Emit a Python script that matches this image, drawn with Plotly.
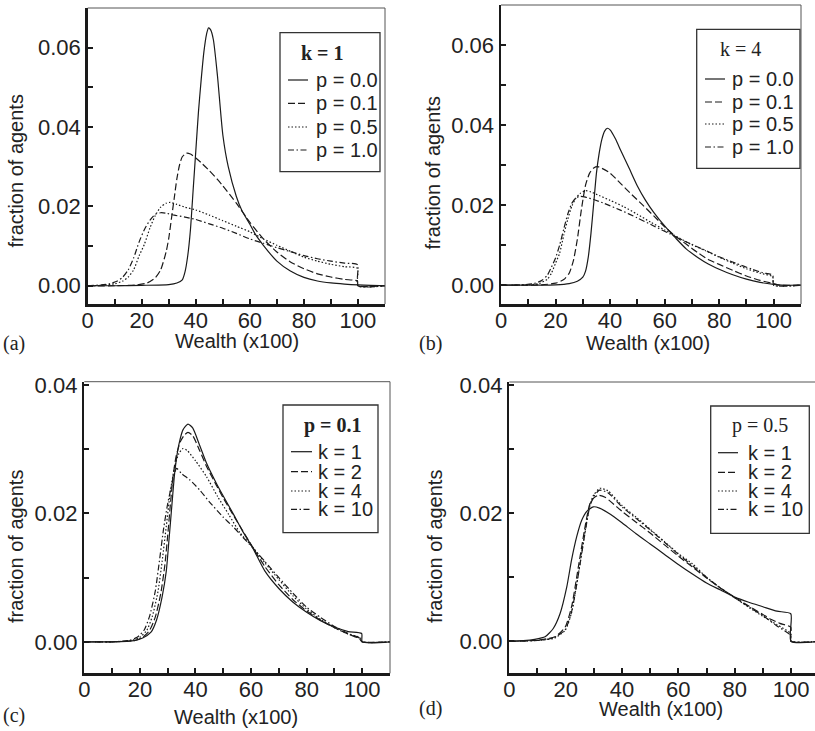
import plotly.graph_objects as go

W, H = 815, 731

# ---------------- data ----------------
# Panel (a): k = 1
a_p00_x = [0, 10, 20, 30, 33, 35, 36, 37, 38, 39, 40, 41, 42, 43, 44, 44.7, 45.5, 46.5, 48, 50, 52, 55, 57, 60, 62, 65, 70, 75, 80, 85, 90, 95, 100, 110]
a_p00_y = [0, 0, 0.0001, 0.0003, 0.0007, 0.0015, 0.0035, 0.0075, 0.014, 0.024, 0.034, 0.044, 0.052, 0.059, 0.0635, 0.065, 0.0645, 0.062, 0.053, 0.038, 0.030, 0.0225, 0.019, 0.0155, 0.013, 0.0102, 0.0062, 0.0037, 0.0021, 0.0012, 0.0007, 0.0004, 0.0002, 0]
a_p01_x = [0, 10, 18, 22, 25, 27, 29, 30, 31, 32, 33, 34, 35, 36.5, 38, 40, 42, 45, 48, 50, 55, 60, 65, 70, 75, 80, 85, 90, 95, 99.8, 100, 110]
a_p01_y = [0, 0, 0.0002, 0.0007, 0.002, 0.004, 0.0085, 0.012, 0.017, 0.022, 0.027, 0.0305, 0.0325, 0.0334, 0.0332, 0.0322, 0.031, 0.029, 0.0268, 0.0252, 0.0208, 0.016, 0.0118, 0.0085, 0.006, 0.0043, 0.003, 0.0022, 0.0016, 0.0012, 0, 0]
a_p05_x = [0, 5, 10, 13, 15, 17, 19, 21, 23, 25, 27, 29, 30.5, 33, 36, 40, 45, 50, 55, 60, 65, 70, 75, 80, 85, 90, 95, 99.8, 100, 110]
a_p05_y = [0, 0.0001, 0.0005, 0.0012, 0.0022, 0.004, 0.0075, 0.0105, 0.0145, 0.0177, 0.0198, 0.0208, 0.021, 0.0205, 0.0198, 0.0191, 0.0178, 0.0164, 0.015, 0.0136, 0.0118, 0.0102, 0.0087, 0.0072, 0.0062, 0.0054, 0.0048, 0.0044, 0, 0]
a_p10_x = [0, 5, 8, 11, 13, 15, 17, 19, 21, 23, 25, 27, 29, 32, 36, 40, 45, 50, 55, 60, 65, 70, 75, 80, 85, 90, 95, 99.8, 100, 110]
a_p10_y = [0, 0.0002, 0.0005, 0.0012, 0.0022, 0.004, 0.007, 0.011, 0.0142, 0.0165, 0.018, 0.0184, 0.0183, 0.0178, 0.0173, 0.0167, 0.0156, 0.0145, 0.0132, 0.0118, 0.0107, 0.0096, 0.0086, 0.0076, 0.0068, 0.0062, 0.0057, 0.0053, 0, 0]

# Panel (b): k = 4
b_p00_x = [0, 10, 20, 25, 28, 30, 31, 32, 33, 34, 35, 36, 37, 38, 39, 40, 42, 44, 47, 50, 53, 56, 60, 64, 68, 72, 76, 80, 85, 90, 95, 100, 103, 110]
b_p00_y = [0, 0, 0.0001, 0.0004, 0.001, 0.002, 0.0035, 0.007, 0.013, 0.0205, 0.028, 0.033, 0.0365, 0.0385, 0.0392, 0.0388, 0.0365, 0.0335, 0.0292, 0.0248, 0.0212, 0.0182, 0.0148, 0.0118, 0.009, 0.007, 0.0053, 0.004, 0.0026, 0.0015, 0.0007, 0.0002, 0, 0]
b_p01_x = [0, 10, 15, 20, 23, 25, 26.5, 28, 29.5, 31, 32.5, 34, 35.5, 37, 40, 44, 48, 52, 56, 60, 64, 68, 72, 76, 80, 85, 90, 95, 100, 102, 110]
b_p01_y = [0, 0, 0.0001, 0.0005, 0.0014, 0.003, 0.006, 0.0115, 0.019, 0.025, 0.028, 0.0293, 0.0296, 0.0292, 0.028, 0.0253, 0.0226, 0.02, 0.0173, 0.0146, 0.0122, 0.0102, 0.0082, 0.0064, 0.0052, 0.0037, 0.0023, 0.0012, 0.0004, 0, 0]
b_p05_x = [0, 10, 14, 17, 18.5, 20, 21.5, 23, 24.5, 26, 27.5, 29, 31, 33, 36, 40, 45, 50, 55, 60, 65, 70, 75, 80, 85, 90, 95, 99.6, 100, 110]
b_p05_y = [0, 0.0001, 0.0004, 0.0015, 0.003, 0.0055, 0.008, 0.0125, 0.0165, 0.0198, 0.0218, 0.0229, 0.0236, 0.0233, 0.0224, 0.0212, 0.0196, 0.0177, 0.0157, 0.0138, 0.0119, 0.0101, 0.0086, 0.007, 0.0055, 0.0041, 0.003, 0.0021, 0, 0]
b_p10_x = [0, 8, 12, 15, 17, 18.5, 20, 21.5, 23, 24.5, 26, 27.5, 29, 31, 34, 38, 44, 50, 56, 62, 68, 74, 80, 86, 92, 96, 99.6, 100, 110]
b_p10_y = [0, 0.0001, 0.0004, 0.0012, 0.0025, 0.0045, 0.0068, 0.01, 0.014, 0.0178, 0.0205, 0.0218, 0.0222, 0.022, 0.0214, 0.0204, 0.0187, 0.0168, 0.0148, 0.0128, 0.0108, 0.009, 0.0071, 0.0055, 0.004, 0.0031, 0.0025, 0, 0]

# Panel (c): p = 0.1
c_k1_x = [0, 10, 18, 21, 24, 26, 28, 29.5, 30.5, 31.5, 32.5, 33.5, 34.5, 35.5, 37.3, 39, 41.5, 44, 47.5, 50, 53.5, 57, 60.5, 65, 70, 75, 80, 85, 90, 95, 99.8, 100, 110]
c_k1_y = [0, 0, 0.0002, 0.0006, 0.0015, 0.0034, 0.007, 0.011, 0.016, 0.0212, 0.0262, 0.0295, 0.0316, 0.033, 0.0339, 0.0333, 0.0306, 0.0278, 0.0247, 0.0227, 0.02, 0.0172, 0.0147, 0.011, 0.0083, 0.0062, 0.0046, 0.0033, 0.0023, 0.0016, 0.0013, 0, 0]
c_k2_x = [0, 10, 18, 21, 23.5, 25.5, 27.5, 29, 30, 31, 32, 33, 34.5, 36, 37.3, 39, 41.5, 44, 47.5, 50, 53.5, 57, 60.5, 65, 70, 75, 80, 85, 90, 95, 99, 100, 110]
c_k2_y = [0, 0, 0.0002, 0.0007, 0.0018, 0.0038, 0.0075, 0.012, 0.0165, 0.0215, 0.026, 0.0288, 0.0311, 0.0322, 0.0326, 0.0321, 0.0298, 0.0273, 0.0244, 0.0224, 0.0198, 0.0173, 0.0148, 0.0117, 0.0089, 0.0066, 0.0048, 0.0034, 0.0022, 0.0012, 0.0005, 0, 0]
c_k4_x = [0, 10, 17, 20, 22.5, 24.5, 26.5, 28, 29.5, 31, 32.5, 34, 35.5, 37, 40, 44, 48, 52, 56, 60.5, 65, 70, 75, 80, 85, 90, 95, 99, 100, 110]
c_k4_y = [0, 0, 0.0002, 0.0007, 0.0018, 0.004, 0.0078, 0.0125, 0.018, 0.0235, 0.0272, 0.0293, 0.0301, 0.0298, 0.0282, 0.0257, 0.0226, 0.0198, 0.017, 0.0148, 0.0123, 0.0097, 0.0072, 0.0051, 0.0035, 0.0022, 0.0012, 0.0007, 0, 0]
c_k10_x = [0, 10, 16, 19, 21.5, 23.5, 25.5, 27, 28.5, 30, 31.5, 33.2, 35, 38, 41.6, 45, 50, 53.6, 57, 60.5, 65, 70, 75, 80, 85, 90, 95, 99, 100, 110]
c_k10_y = [0, 0, 0.0002, 0.0007, 0.0018, 0.004, 0.0078, 0.0125, 0.0175, 0.0215, 0.0245, 0.027, 0.0262, 0.0252, 0.0236, 0.0218, 0.0194, 0.0179, 0.0163, 0.0147, 0.0125, 0.01, 0.0076, 0.0054, 0.0038, 0.0024, 0.0013, 0.0006, 0, 0]

# Panel (d): p = 0.5
d_k1_x = [0, 5, 9, 12.7, 15.6, 18, 20.4, 22.1, 23.9, 25.7, 27.5, 29.8, 32, 36, 40, 45, 50, 55, 60, 65, 70, 75, 80, 85, 90, 95, 99.9, 100, 110]
d_k1_y = [0, 0.0001, 0.0003, 0.0007, 0.002, 0.0043, 0.0085, 0.0127, 0.0163, 0.0189, 0.0203, 0.021, 0.0208, 0.0198, 0.0185, 0.0168, 0.0152, 0.0136, 0.012, 0.0105, 0.0091, 0.008, 0.0069, 0.0061, 0.0054, 0.0047, 0.0043, 0, 0]
d_k2_x = [0, 8, 12, 16.2, 19.8, 22.1, 24.5, 26.9, 28.6, 30, 31.6, 34, 40, 45, 50, 55, 60, 65, 70, 75, 80, 85, 90, 93, 96, 99.9, 100, 110]
d_k2_y = [0, 0.0001, 0.0003, 0.0007, 0.0022, 0.0054, 0.0116, 0.0179, 0.0215, 0.0224, 0.0228, 0.0225, 0.0203, 0.0186, 0.0169, 0.0151, 0.0133, 0.0116, 0.0099, 0.0083, 0.0069, 0.0055, 0.0042, 0.0034, 0.0028, 0.0022, 0, 0]
d_k4_x = [0, 8, 12, 16, 19.8, 22.1, 24.5, 26.9, 28.6, 30, 32.2, 35, 40, 45, 50, 55, 60, 65, 70, 75, 80, 85, 90, 95, 99.9, 100, 110]
d_k4_y = [0, 0.0001, 0.0002, 0.0005, 0.0017, 0.0045, 0.0105, 0.0172, 0.0213, 0.0229, 0.0239, 0.0235, 0.0212, 0.0194, 0.0175, 0.0156, 0.0137, 0.0121, 0.01, 0.0083, 0.0068, 0.0053, 0.0039, 0.0026, 0.0012, 0, 0]
d_k10_x = [0, 8, 12, 16, 19.8, 22.1, 24.5, 26.9, 28.6, 30, 32, 35, 40, 45, 50, 55, 60, 65, 70, 75, 80, 85, 90, 95, 99.9, 100, 110]
d_k10_y = [0, 0.0001, 0.0002, 0.0006, 0.0018, 0.0046, 0.0104, 0.017, 0.0211, 0.0226, 0.0236, 0.0232, 0.021, 0.0192, 0.0174, 0.0155, 0.0136, 0.0118, 0.01, 0.0083, 0.0068, 0.0054, 0.004, 0.0024, 0.0009, 0, 0]

legend_a = ["p = 0.0", "p = 0.1", "p = 0.5", "p = 1.0"]
legend_b = ["p = 0.0", "p = 0.1", "p = 0.5", "p = 1.0"]
legend_c = ["k = 1", "k = 2", "k = 4", "k = 10"]
legend_d = ["k = 1", "k = 2", "k = 4", "k = 10"]
x_ticks = [0, 20, 40, 60, 80, 100]

# ---------------- styling ----------------
INK = "#1a1a1a"
TXT = "#222222"
SANS = "Liberation Sans, Arial, sans-serif"
SERIF = "Liberation Serif, Times New Roman, serif"
DASHES = ["solid", "7px,3px", "1.5px,2px", "6px,2.5px,1.5px,2.5px"]
LW = 1.2


def px(x):
    return x / W


def py(y):
    return 1 - y / H


fig = go.Figure()

panels = [
    dict(ax="", series=[(a_p00_x, a_p00_y), (a_p01_x, a_p01_y), (a_p05_x, a_p05_y), (a_p10_x, a_p10_y)]),
    dict(ax="2", series=[(b_p00_x, b_p00_y), (b_p01_x, b_p01_y), (b_p05_x, b_p05_y), (b_p10_x, b_p10_y)]),
    dict(ax="3", series=[(c_k1_x, c_k1_y), (c_k2_x, c_k2_y), (c_k4_x, c_k4_y), (c_k10_x, c_k10_y)]),
    dict(ax="4", series=[(d_k1_x, d_k1_y), (d_k2_x, d_k2_y), (d_k4_x, d_k4_y), (d_k10_x, d_k10_y)]),
]

for p in panels:
    for (xs, ys), dash in zip(p["series"], DASHES):
        fig.add_trace(go.Scatter(
            x=xs, y=ys, mode="lines", xaxis="x" + p["ax"], yaxis="y" + p["ax"],
            line=dict(color=INK, width=LW, dash=dash, shape="spline", smoothing=0.6),
            showlegend=False, hoverinfo="skip"))

# axis geometry in pixels: left, right, top, bottom
geo = {
    "": (87.7, 385.0, 8.0, 304.0, [0, 110], [-0.0046, 0.070]),
    "2": (501.0, 801.0, 5.0, 304.0, [0, 110], [-0.0047, 0.070]),
    "3": (84.3, 390.0, 381.7, 673.3, [0, 110], [-0.0049, 0.0405]),
    "4": (509.3, 815.0, 382.0, 673.3, [0, 108.5], [-0.005, 0.0405]),
}

layout = dict(template="none", width=W, height=H, autosize=False,
              margin=dict(l=0, r=0, t=0, b=0, pad=0),
              paper_bgcolor="white", plot_bgcolor="white", showlegend=False)

common = dict(showline=True, linewidth=2.5, linecolor=INK, ticks="inside",
              ticklen=5, tickwidth=2, tickcolor=INK, showgrid=False, zeroline=False,
              automargin=False,
              tickfont=dict(family=SANS, size=22, color=TXT), fixedrange=True)

for k, (l, r, t, b, xr, yr) in geo.items():
    layout["xaxis" + k] = dict(common, domain=[px(l), px(r)], range=xr,
                               anchor="y" + k, tickmode="array", tickvals=x_ticks,
                               ticklabelstandoff=-5,
                               minor=dict(ticks="inside", ticklen=5, tickwidth=2,
                                          tickcolor=INK, dtick=10, tick0=0, showgrid=False))
    layout["yaxis" + k] = dict(common, domain=[py(b), py(t)], range=yr,
                               anchor="x" + k, tick0=0, dtick=0.02, tickformat=".2f",
                               minor=dict(ticks="inside", ticklen=5, tickwidth=2,
                                          tickcolor=INK, dtick=0.01, tick0=0, showgrid=False))

fig.update_layout(**layout)

shapes = []
annotations = []

# thin top/right borders
for k, (l, r, t, b, xr, yr) in geo.items():
    shapes.append(dict(type="line", xref="paper", yref="paper", x0=px(l), x1=px(r),
                       y0=py(t), y1=py(t), line=dict(color="#555", width=1)))
    if k != "4":
        shapes.append(dict(type="line", xref="paper", yref="paper", x0=px(r), x1=px(r),
                           y0=py(t), y1=py(b), line=dict(color="#555", width=1)))


def text(x, y, s, font=SANS, size=20, anchor="center", angle=0):
    annotations.append(dict(x=px(x), y=py(y), xref="paper", yref="paper", text=s,
                            showarrow=False, xanchor=anchor, yanchor="middle",
                            textangle=angle, font=dict(family=font, size=size, color=TXT)))


# axis titles and panel labels
for (cx, cy), (lx, ly), (yx, yy), lab in [
        ((237, 341), (14, 343), (15.5, 171), "(a)"),
        ((648, 343), (431, 343), (432.5, 173), "(b)"),
        ((236, 717), (14, 715), (16, 547), "(c)"),
        ((661, 709), (431, 708), (435, 547), "(d)")]:
    text(cx, cy, "Wealth (x100)")
    text(lx, ly, lab, font=SERIF)
    text(yx, yy, "fraction of agents", angle=-90)

# legends
legends = [
    dict(box=(280, 380, 32.7, 171.7), title="<b>k = 1</b>", tc=(322, 53), lx=(288, 308), tx=314,
         rows=[80, 103.3, 127, 150], labels=legend_a),
    dict(box=(696.7, 800, 29.3, 168.3), title="k = 4", tc=(740, 49), lx=(705, 725), tx=730,
         rows=[79, 102, 124, 147], labels=legend_b),
    dict(box=(283, 378, 405, 532.7), title="<b>p = 0.1</b>", tc=(333, 425), lx=(291, 312), tx=316,
         rows=[451.7, 471.7, 491, 509.3], labels=legend_c),
    dict(box=(710.7, 809.3, 406, 533.3), title="p = 0.5", tc=(760, 425.7), lx=(718, 738), tx=746,
         rows=[452.7, 472.3, 491, 509.3], labels=legend_d),
]
for lg in legends:
    l, r, t, b = lg["box"]
    shapes.append(dict(type="rect", xref="paper", yref="paper", x0=px(l), x1=px(r),
                       y0=py(b), y1=py(t), line=dict(color="#333", width=1.3),
                       fillcolor="white", layer="below"))
    text(lg["tc"][0], lg["tc"][1], lg["title"], font=SERIF, size=20)
    for row, lab, dash in zip(lg["rows"], lg["labels"], DASHES):
        shapes.append(dict(type="line", xref="paper", yref="paper", x0=px(lg["lx"][0]),
                           x1=px(lg["lx"][1]), y0=py(row), y1=py(row),
                           line=dict(color=INK, width=LW, dash=dash)))
        text(lg["tx"], row, lab, anchor="left")

fig.update_layout(shapes=shapes, annotations=annotations)
fig.write_html("out.html", config={"displayModeBar": False, "staticPlot": True},
               post_script="document.body.style.margin='0px';document.body.style.overflow='hidden';")
